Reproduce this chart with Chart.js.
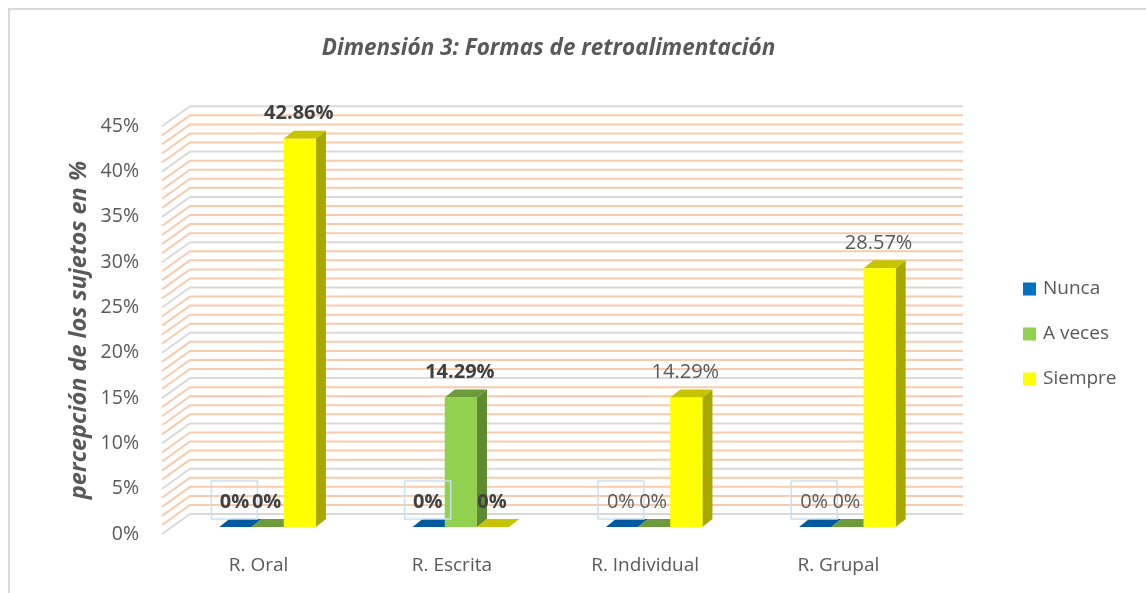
<!DOCTYPE html>
<html>
<head>
<meta charset="utf-8">
<script src="https://cdn.jsdelivr.net/npm/chart.js@4.4.1/dist/chart.umd.min.js"></script>
<style>
  html, body { margin: 0; padding: 0; background: #ffffff; }
  #wrap { width: 1146px; height: 593px; }
</style>
</head>
<body>
<div id="wrap"><canvas id="c" width="1146" height="593"></canvas></div>
<script>
// ---- data ----
const categories = ['R. Oral', 'R. Escrita', 'R. Individual', 'R. Grupal'];
const seriesNames = ['Nunca', 'A veces', 'Siempre'];
const nunca   = [0, 0, 0, 0];
const aVeces  = [0, 14.29, 0, 0];
const siempre = [42.86, 0, 14.29, 28.57];
const yTicks  = [0, 5, 10, 15, 20, 25, 30, 35, 40, 45];
const boldLabelCategories = [true, true, false, false];

// ---- styles ----
const FONT = "'Open Sans', 'Liberation Sans', sans-serif";
const TEXT = '#595959';
const frontColors = ['#0070c0', '#92d050', '#ffff00'];
const sideColors  = ['#004f8a', '#5e8a30', '#a8a800'];
const topColors   = ['#005a9e', '#6b9b3a', '#c6c400'];
const WALL_DX = 28, WALL_DY = 20;
const SHIFT_X = 9, SHIFT_Y = -7;
const BAR_DX = 10, BAR_DY = 8;

function fmt(v) { return v === 0 ? '0%' : v.toFixed(2) + '%'; }

const pseudo3d = {
  id: 'pseudo3d',
  beforeDraw(chart) {
    const { ctx, chartArea: a } = chart;
    const y = chart.scales.y;
    ctx.save();
    ctx.fillStyle = '#ffffff';
    ctx.fillRect(0, 0, chart.width, chart.height);
    // outer frame
    ctx.strokeStyle = '#d9d9d9';
    ctx.lineWidth = 2;
    ctx.beginPath();
    ctx.moveTo(9, chart.height);
    ctx.lineTo(9, 9);
    ctx.lineTo(chart.width, 9);
    ctx.stroke();
    // side + back walls, one line per 1%
    const maxV = yTicks[yTicks.length - 1];
    ctx.lineWidth = 2;
    for (let v = 0; v <= maxV; v += 1) {
      const py = y.getPixelForValue(v);
      ctx.strokeStyle = (v % 5 === 0) ? '#d9d9d9' : '#f8cbad';
      ctx.beginPath();
      ctx.moveTo(a.left, py);
      ctx.lineTo(a.left + WALL_DX, py - WALL_DY);
      ctx.lineTo(a.right + WALL_DX, py - WALL_DY);
      ctx.stroke();
    }
    ctx.restore();
  },
  beforeDatasetsDraw(chart) {
    const ctx = chart.ctx;
    ctx.save();
    ctx.translate(SHIFT_X, SHIFT_Y);
    chart.data.datasets.forEach((ds, di) => {
      const meta = chart.getDatasetMeta(di);
      meta.data.forEach((el) => {
        const p = el.getProps(['x', 'y', 'base', 'width'], true);
        const l = p.x - p.width / 2, r = p.x + p.width / 2;
        const top = Math.min(p.y, p.base), bot = Math.max(p.y, p.base);
        if (bot - top > 0.5) {
          ctx.fillStyle = sideColors[di];
          ctx.beginPath();
          ctx.moveTo(r, top);
          ctx.lineTo(r + BAR_DX, top - BAR_DY);
          ctx.lineTo(r + BAR_DX, bot - BAR_DY);
          ctx.lineTo(r, bot);
          ctx.closePath();
          ctx.fill();
        }
        ctx.fillStyle = topColors[di];
        ctx.beginPath();
        ctx.moveTo(l, top);
        ctx.lineTo(l + BAR_DX, top - BAR_DY);
        ctx.lineTo(r + BAR_DX, top - BAR_DY);
        ctx.lineTo(r, top);
        ctx.closePath();
        ctx.fill();
      });
    });
  },
  afterDatasetsDraw(chart) {
    const ctx = chart.ctx;
    ctx.textAlign = 'center';
    ctx.textBaseline = 'middle';
    chart.data.datasets.forEach((ds, di) => {
      const meta = chart.getDatasetMeta(di);
      meta.data.forEach((el, i) => {
        const p = el.getProps(['x', 'y', 'base', 'width'], true);
        const v = ds.data[i];
        const bold = boldLabelCategories[i];
        if (di === 0) {
          ctx.strokeStyle = '#c9dff2';
          ctx.lineWidth = 1.5;
          ctx.strokeRect(p.x - 24, p.base - 46, 46, 38);
        }
        ctx.font = (bold ? 'bold ' : '') + '20px ' + FONT;
        ctx.fillStyle = bold ? '#404040' : TEXT;
        ctx.fillText(fmt(v), p.x - 1, Math.min(p.y, p.base) - 25);
      });
    });
    ctx.restore();
  },
  afterDraw(chart) {
    const ctx = chart.ctx;
    ctx.save();
    const rowsY = [289, 334, 379];
    ctx.font = '19px ' + FONT;
    ctx.textAlign = 'left';
    ctx.textBaseline = 'middle';
    chart.data.datasets.forEach((ds, di) => {
      ctx.fillStyle = ds.backgroundColor;
      ctx.fillRect(1023, rowsY[di] - 6.5, 13, 13);
      ctx.fillStyle = TEXT;
      ctx.fillText(ds.label, 1043, rowsY[di]);
    });
    ctx.restore();
  }
};

new Chart(document.getElementById('c'), {
  type: 'bar',
  data: {
    labels: categories,
    datasets: [
      { label: seriesNames[0], data: nunca,   backgroundColor: frontColors[0] },
      { label: seriesNames[1], data: aVeces,  backgroundColor: frontColors[1] },
      { label: seriesNames[2], data: siempre, backgroundColor: frontColors[2] }
    ]
  },
  options: {
    responsive: false,
    animation: false,
    devicePixelRatio: 1,
    layout: { padding: { left: 65, top: 10, right: 211, bottom: 0 } },
    datasets: { bar: { categoryPercentage: 0.5, barPercentage: 1.0, borderWidth: 0, clip: false } },
    plugins: {
      legend: { display: false },
      tooltip: { enabled: false },
      title: {
        display: true,
        fullSize: false,
        text: 'Dimensión 3: Formas de retroalimentación',
        color: TEXT,
        font: { family: FONT, size: 22.5, weight: 'bold', style: 'italic', lineHeight: 1.2 },
        padding: { top: 25, bottom: 64.3 }
      }
    },
    scales: {
      x: {
        grid: { display: false, drawTicks: false },
        border: { display: false },
        ticks: { color: TEXT, font: { family: FONT, size: 19 }, padding: 20 },
        afterFit(s) { s.height = 59; }
      },
      y: {
        min: yTicks[0],
        max: yTicks[yTicks.length - 1],
        grid: { display: false, drawTicks: false },
        border: { display: false },
        ticks: {
          stepSize: 5,
          color: TEXT,
          padding: 23,
          font: { family: FONT, size: 19.5 },
          callback: (v) => v + '%'
        },
        title: {
          display: true,
          text: 'percepción de los sujetos en %',
          color: TEXT,
          font: { family: FONT, size: 23.5, weight: 'bold', style: 'italic', lineHeight: 1.2 },
          padding: { top: 0, bottom: 0 }
        },
        afterFit(s) { s.width = 97; }
      }
    }
  },
  plugins: [pseudo3d]
});
</script>
</body>
</html>
